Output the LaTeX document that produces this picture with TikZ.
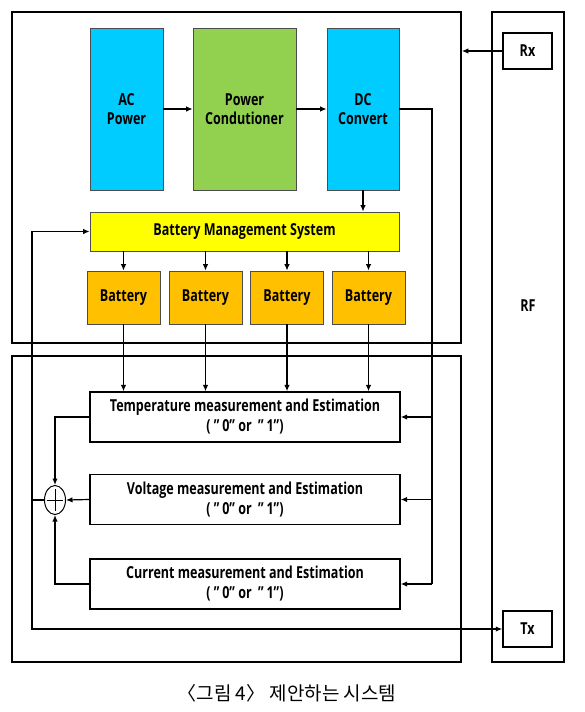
\documentclass[tikz,border=0pt]{standalone}
\usepackage{fontspec}
\setmainfont{Open Sans}[FakeStretch=0.76]
\newfontfamily\krfont{Noto Sans CJK KR}
\usepackage{tikz}
\usetikzlibrary{positioning,arrows.meta,calc,shapes.geometric}
\definecolor{acblue}{HTML}{00CCFF}
\definecolor{pcgreen}{HTML}{92D050}
\definecolor{bmsyellow}{HTML}{FFFF00}
\definecolor{batorange}{HTML}{FFC000}

\begin{document}
\begin{tikzpicture}[x=1pt, y=-1pt, >={Latex[length=6.5pt,width=5.5pt]},
  frame/.style={draw, line width=1.8pt, inner sep=0pt},
  block/.style={draw=black!70, line width=0.8pt, inner sep=0pt, align=center,
    font=\fontsize{16.5}{19.5}\selectfont\bfseries},
  mbox/.style={draw, line width=1.4pt, inner sep=0pt, align=center,
    minimum width=310pt, minimum height=50pt,
    font=\fontsize{16.5}{20}\selectfont\bfseries},
  link/.style={line width=1.2pt}]
\useasboundingbox (0,0) rectangle (585,712);

% Frames
\node[frame, minimum width=449pt, minimum height=331pt] (upper) at (236.5,177.5) {};
\node[frame, minimum width=449pt, minimum height=306pt] (lower) at (236.5,509) {};
\node[frame, minimum width=72pt, minimum height=650pt] (rf) at (528,337) {};
\node[font=\fontsize{16.5}{19.5}\selectfont\bfseries] (rflabel) at (528,306) {RF};
\node[block, draw=black, line width=1.5pt, minimum width=49pt, minimum height=36pt] (rx) at (527.5,51) {Rx};
\node[block, draw=black, line width=1.5pt, minimum width=49pt, minimum height=36pt] (tx) at (527.5,629) {Tx};

% Power chain
\node[block, fill=acblue, minimum width=73pt, minimum height=162pt] (ac) at (126.5,109) {AC\\Power};
\node[block, fill=pcgreen, minimum width=103pt, minimum height=162pt] (pc) at (244.5,109) {Power\\Condutioner};
\node[block, fill=acblue, minimum width=72pt, minimum height=162pt] (dc) at (363,109) {DC\\Convert};

% BMS and batteries
\node[block, fill=bmsyellow, minimum width=309pt, minimum height=39pt] (bms) at (244.5,231.5) {Battery Management System};
\node[block, fill=batorange, minimum width=73pt, minimum height=53pt] (b1) at (123.5,297.5) {Battery};
\node[block, fill=batorange, minimum width=73pt, minimum height=53pt] (b2) at (205.5,297.5) {Battery};
\node[block, fill=batorange, minimum width=73pt, minimum height=53pt] (b3) at (287,297.5) {Battery};
\node[block, fill=batorange, minimum width=73pt, minimum height=53pt] (b4) at (368.5,297.5) {Battery};

% Measurement
\node[mbox] (temp) at (245,417) {Temperature measurement and Estimation\\( "\,0" or \ "\,1")};
\node[mbox] (volt) at (245,499.5) {Voltage measurement and Estimation\\( "\,0" or \ "\,1")};
\node[mbox] (cur) at (245,584) {Current measurement and Estimation\\( "\,0" or \ "\,1")};
\node[draw, ellipse, line width=1pt, minimum width=21pt, minimum height=29pt, inner sep=0pt] (sum) at (55,500) {};
\draw[line width=1pt] ($(sum.center)!0.72!(sum.north)$) -- ($(sum.center)!0.72!(sum.south)$);
\draw[line width=1pt] ($(sum.center)!0.72!(sum.west)$) -- ($(sum.center)!0.72!(sum.east)$);

\coordinate (bus) at (432,109);
\coordinate (lbus) at (32,500);

% Arrows
\draw[link,->] (ac) -- (pc);
\draw[link,->] (pc) -- (dc);
\draw[link,->] (dc.south) -- (dc.south |- bms.north);
\foreach \b in {b1,b2,b3,b4} {
  \draw[link,->] (\b.north |- bms.south) -- (\b.north);
  \draw[link,->] (\b.south) -- (\b.south |- temp.north);
}
\draw[link] (dc.east) -- (bus) -- (bus |- cur.east);
\foreach \m in {temp,volt,cur}
  \draw[link,->] (\m.east -| bus) -- (\m.east);
\draw[link,->] (temp.west) -| (sum.north);
\draw[link,->] (volt.west) -- (sum.east);
\draw[link,->] (cur.west) -| (sum.south);
\draw[link] (sum.west) -- (lbus);
\draw[link,->] (lbus) |- (bms.west);
\draw[link,->] (lbus) |- (tx.west);
\draw[link,->] (rx.west) -- (rx.west -| upper.east);

% Caption
\node[font=\krfont\fontsize{19}{22}\selectfont] (caption) at (287,693) {〈그림 4〉 제안하는 시스템};
\end{tikzpicture}
\end{document}
